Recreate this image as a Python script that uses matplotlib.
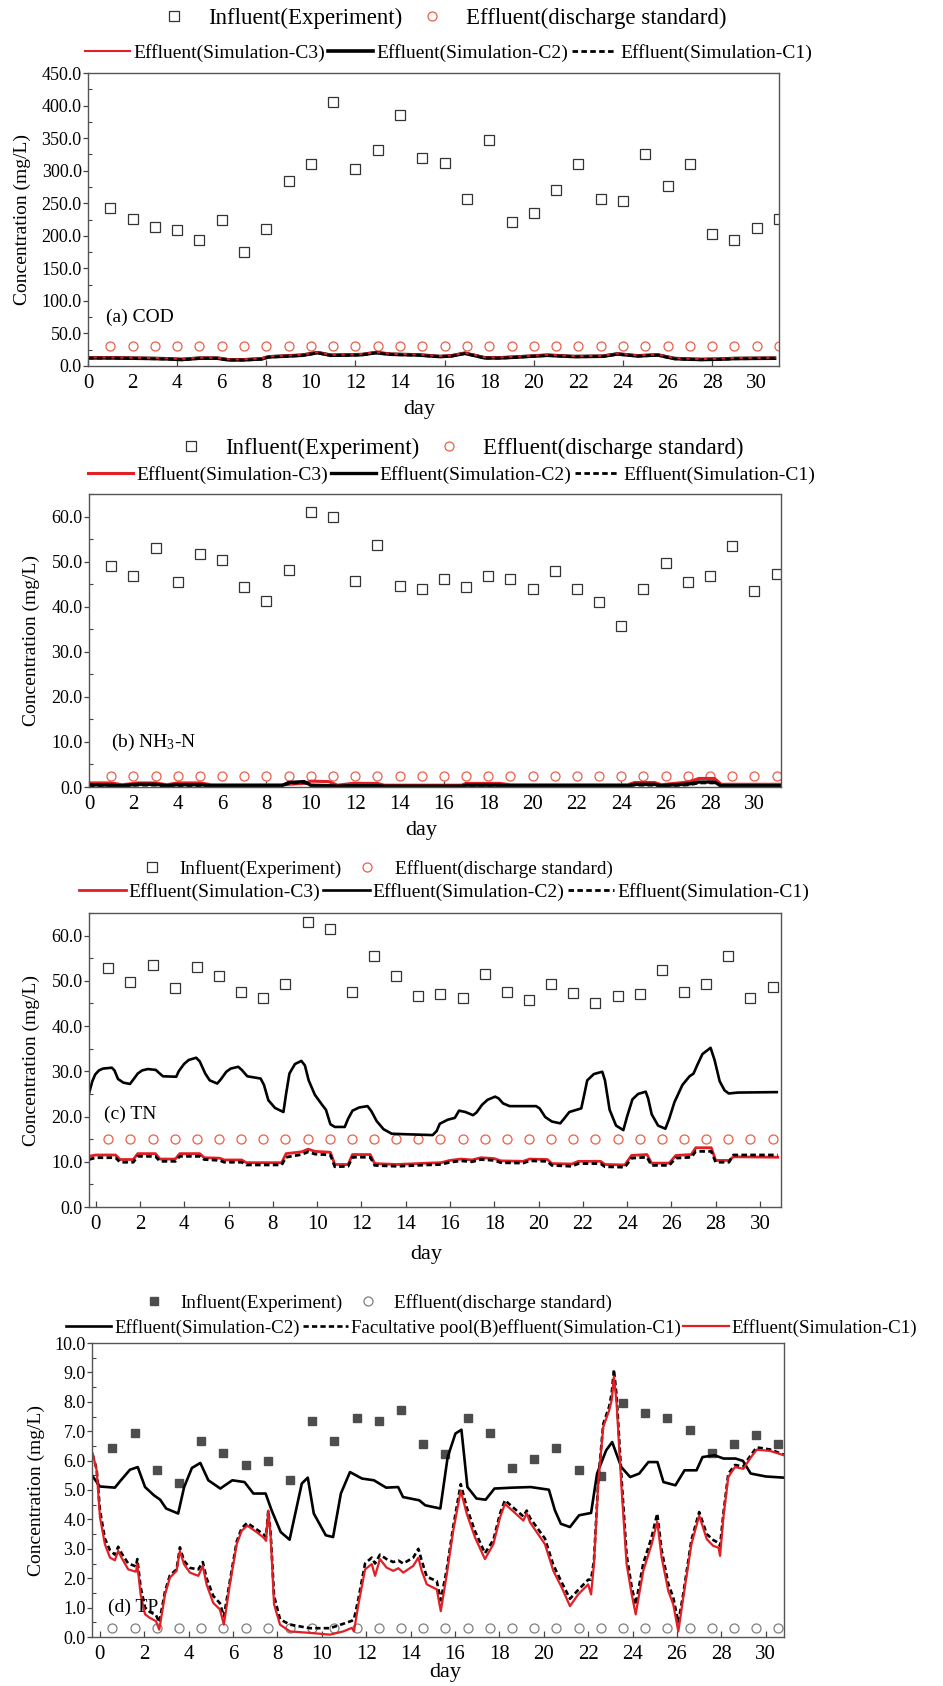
import numpy as np
import matplotlib
matplotlib.use("Agg")
import matplotlib.pyplot as plt
from matplotlib.ticker import MultipleLocator, FixedLocator, FormatStrFormatter

plt.rcParams['font.family'] = ['Liberation Serif', 'DejaVu Serif']
plt.rcParams['mathtext.fontset'] = 'custom'
plt.rcParams['mathtext.rm'] = 'Liberation Serif'
plt.rcParams['mathtext.it'] = 'Liberation Serif:italic'

W, H = 943, 1686

# ---------------- data ----------------
# (a) COD
cod_days = np.arange(1, 32)
cod_in = [243, 226, 213, 209, 194, 225, 175, 210, 284, 311, 405, 302, 331, 386, 320, 312,
          256, 347, 221, 235, 271, 310, 256, 254, 325, 276, 311, 202, 194, 212, 226]
cod_std = 30.0
cod_t = [0, 1, 2, 3, 3.6, 4.2, 5, 5.8, 6.3, 7, 7.8, 8.1, 9, 9.6, 10.3, 10.9, 11.8, 12.3, 12.9, 13.6,
         14.8, 15.8, 16.3, 16.9, 17.3, 17.8, 18.5, 19.1, 20.6, 21.2, 21.8, 23.1, 23.75, 24.65, 25.55,
         26.3, 27.0, 27.5, 28.3, 29.0, 30.8]
cod_c2 = [12.5, 12.5, 12, 11.5, 11, 10, 12, 12, 9.5, 9.5, 11, 14, 15.5, 16.5, 20.5, 16.5, 17, 17.5,
          20.5, 18, 17, 14.5, 15.5, 19.5, 16.5, 12.5, 12.5, 13.5, 16.5, 15.5, 14.5, 15, 18.5, 15.5,
          17, 11.5, 10.5, 10, 10.5, 11.5, 12]
cod_c3 = [13.3, 13.3, 12.8, 12.3, 11.8, 10.8, 12.8, 12.8, 10.3, 10.3, 11.8, 14.8, 16.3, 17.3, 21.3,
          17.3, 17.8, 18.3, 21.3, 18.8, 17.8, 15.3, 16.3, 20.3, 17.3, 13.3, 13.3, 14.3, 17.3, 16.3,
          15.3, 15.8, 19.3, 16.3, 17.8, 12.3, 11.3, 10.8, 11.3, 12.3, 12.8]
cod_c1 = [12.1, 12.1, 11.6, 11.1, 10.6, 9.6, 11.6, 11.6, 9.1, 9.1, 10.6, 13.6, 15.1, 16.1, 20.1,
          16.1, 16.6, 17.1, 20.1, 17.6, 16.6, 14.1, 15.1, 19.1, 16.1, 12.1, 12.1, 13.1, 16.1, 15.1,
          14.1, 14.6, 18.1, 15.1, 16.6, 11.1, 10.1, 9.6, 10.1, 11.1, 11.6]

# (b) NH3-N
nh3_days = np.arange(1, 32)
nh3_in = [49.1, 46.7, 53.1, 45.5, 51.6, 50.4, 44.3, 41.3, 48.2, 60.9, 59.8, 45.7, 53.7, 44.5, 43.9,
          46.1, 44.3, 46.7, 46.1, 43.9, 47.9, 43.9, 41.0, 35.8, 43.9, 49.7, 45.5, 46.7, 53.4, 43.5, 47.3]
nh3_std = 2.5
nh3_t = [0, 1, 1.5, 2.2, 3.0, 3.5, 4.0, 5.0, 5.5, 8.7, 9.0, 9.7, 10.0, 10.8, 11.2, 11.9, 13.0, 13.3,
         16.8, 17.0, 18.5, 19.0, 24.3, 24.6, 25.5, 25.8, 26.8, 27.1, 27.5, 28.2, 28.5, 31.2]
nh3_c3 = [0.9, 0.9, 0.5, 0.9, 0.9, 0.5, 0.9, 0.9, 0.5, 0.5, 0.6, 0.8, 1.3, 1.2, 0.4, 0.8, 0.8, 0.4,
          0.4, 0.8, 0.8, 0.5, 0.5, 1.0, 1.0, 0.5, 1.0, 1.2, 1.9, 1.9, 0.6, 0.6]
nh3_c2 = [0.5, 0.4, 0.3, 0.6, 0.6, 0.3, 0.5, 0.5, 0.3, 0.3, 1.0, 1.2, 0.4, 0.3, 0.2, 0.3, 0.3, 0.2,
          0.2, 0.4, 0.4, 0.3, 0.3, 0.6, 0.6, 0.3, 0.6, 0.7, 1.1, 1.1, 0.3, 0.3]
nh3_c1 = [0.3, 0.3, 0.2, 0.4, 0.4, 0.2, 0.3, 0.3, 0.2, 0.2, 0.8, 1.0, 0.3, 0.2, 0.1, 0.2, 0.2, 0.1,
          0.1, 0.3, 0.3, 0.2, 0.2, 0.4, 0.4, 0.2, 0.4, 0.5, 0.9, 0.9, 0.2, 0.2]

# (c) TN
tn_days = np.arange(1, 32) - 0.43
tn_in = [52.9, 49.7, 53.5, 48.5, 53.1, 51.0, 47.5, 46.1, 49.2, 63.0, 61.4, 47.5, 55.4, 51.1, 46.7,
         47.2, 46.3, 51.6, 47.5, 45.8, 49.4, 47.3, 45.2, 46.7, 47.2, 52.3, 47.5, 49.4, 55.6, 46.1, 48.6]
tn_std = 15.0
tn_t2 = [-0.3, -0.15, -0.02, 0.15, 0.33, 0.73, 0.85, 1.01, 1.25, 1.55, 1.72, 1.90, 2.1, 2.36, 2.72,
         2.85, 3.04, 3.64, 3.75, 3.99, 4.2, 4.54, 4.7, 4.95, 5.15, 5.49, 5.65, 5.90, 6.1, 6.44, 6.6,
         6.85, 7.45, 7.6, 7.80, 8.1, 8.48, 8.6, 8.75, 9.0, 9.29, 9.45, 9.62, 9.9, 10.24, 10.4, 10.60,
         10.8, 11.25, 11.4, 11.60, 11.9, 12.28, 12.45, 12.69, 13.0, 13.37, 13.91, 15.22, 15.4, 15.54,
         15.9, 16.22, 16.41, 16.7, 17.04, 17.2, 17.45, 17.7, 18.04, 18.2, 18.40, 18.7, 19.89, 20.05,
         20.30, 20.6, 20.98, 21.15, 21.39, 21.93, 22.05, 22.20, 22.5, 22.88, 23.0, 23.21, 23.5, 23.83,
         24.0, 24.24, 24.5, 24.84, 24.95, 25.11, 25.4, 25.73, 25.9, 26.14, 26.5, 26.82, 27.0, 27.17,
         27.4, 27.77, 27.95, 28.18, 28.4, 28.59, 29.0, 30.76]
tn_c2 = [25.1, 27.8, 29.3, 30.2, 30.6, 30.8, 30.2, 28.3, 27.5, 27.2, 28.3, 29.5, 30.2, 30.5, 30.3,
         29.7, 28.9, 28.8, 30.0, 31.6, 32.5, 33.0, 32.2, 29.5, 28.0, 27.3, 28.2, 29.9, 30.6, 31.0,
         30.3, 28.9, 28.4, 27.0, 23.6, 21.9, 21.0, 25.0, 29.5, 31.6, 32.3, 31.3, 28.0, 24.8, 22.5,
         21.5, 18.3, 17.7, 17.7, 19.5, 21.3, 22.0, 22.3, 21.2, 19.0, 17.2, 16.2, 16.1, 15.9, 16.8,
         18.4, 19.3, 19.7, 21.3, 21.0, 20.3, 20.9, 22.6, 23.7, 24.4, 24.0, 22.9, 22.3, 22.3, 21.8,
         19.9, 18.9, 18.5, 19.5, 21.0, 21.8, 24.5, 28.0, 29.4, 29.9, 28.0, 21.5, 18.0, 17.0, 20.0,
         23.8, 25.0, 25.5, 24.0, 20.5, 18.0, 17.3, 19.5, 23.2, 27.0, 28.9, 29.5, 31.4, 33.8, 35.2,
         32.5, 27.8, 25.8, 25.1, 25.3, 25.4]
tn_t = [-0.3, 0.0, 0.9, 1.1, 1.7, 1.9, 2.7, 2.9, 3.6, 3.8, 4.7, 4.9, 5.6, 5.8, 6.6, 6.8, 8.4, 8.6,
        9.3, 9.6, 9.9, 10.6, 10.8, 11.4, 11.6, 12.4, 12.6, 13.6, 15.0, 15.6, 16.0, 16.5, 17.0, 17.4,
        18.0, 18.3, 19.3, 19.6, 20.4, 20.6, 21.5, 21.8, 22.8, 23.0, 23.9, 24.2, 24.9, 25.1, 25.9,
        26.2, 26.9, 27.1, 27.8, 28.0, 28.6, 28.8, 30.8]
tn_c3 = [11.2, 11.5, 11.5, 10.5, 10.5, 11.8, 11.8, 10.6, 10.6, 11.8, 11.8, 10.9, 10.8, 10.4, 10.4,
         9.8, 9.8, 11.8, 12.2, 12.8, 12.3, 12.1, 9.4, 9.4, 11.6, 11.6, 9.6, 9.4, 9.7, 9.8, 10.3,
         10.6, 10.4, 10.9, 10.7, 10.2, 10.1, 10.6, 10.5, 9.6, 9.5, 10.1, 10.1, 9.4, 9.3, 11.4, 11.6,
         9.7, 9.7, 11.4, 11.6, 13.1, 13.1, 10.3, 10.3, 11.1, 11.0]
tn_c1 = [10.5, 10.9, 10.9, 9.9, 9.9, 11.2, 11.2, 10.1, 10.1, 11.2, 11.2, 10.5, 10.3, 9.9, 9.9, 9.3,
         9.3, 11.0, 11.6, 12.2, 11.7, 11.5, 8.9, 9.0, 11.0, 11.0, 9.2, 9.0, 9.3, 9.4, 9.9, 10.2, 10.0,
         10.5, 10.3, 9.8, 9.7, 10.2, 10.1, 9.2, 9.0, 9.6, 9.6, 8.9, 8.8, 10.8, 11.0, 9.2, 9.2, 10.8,
         11.0, 12.3, 12.3, 9.9, 9.9, 11.5, 11.5]

# (d) TP
tp_days = np.arange(1, 32) - 0.43
tp_in = [6.43, 6.94, 5.67, 5.25, 6.66, 6.26, 5.85, 5.98, 5.35, 7.34, 6.66, 7.45, 7.34, 7.73, 6.55,
         6.24, 7.45, 6.94, 5.76, 6.07, 6.43, 5.67, 5.46, 7.96, 7.63, 7.45, 7.05, 6.27, 6.55, 6.86, 6.55]
tp_std = 0.3
tp_t2 = [-0.35, 0.0, 0.68, 0.95, 1.36, 1.71, 2.04, 2.44, 2.72, 2.99, 3.53, 3.80, 4.15, 4.53, 4.89,
         5.43, 5.97, 6.52, 6.92, 7.47, 7.74, 8.15, 8.55, 9.10, 9.37, 9.64, 10.18, 10.51, 10.86, 11.27,
         11.81, 12.35, 12.90, 13.44, 13.66, 14.39, 14.66, 15.34, 15.67, 16.02, 16.29, 16.56, 16.97,
         17.38, 17.78, 18.60, 19.41, 20.23, 20.50, 20.77, 21.18, 21.59, 22.13, 22.40, 22.81, 23.08,
         23.49, 23.89, 24.30, 24.71, 25.12, 25.39, 25.93, 26.34, 26.88, 27.15, 27.69, 28.10, 28.64,
         28.97, 29.32, 30.00, 30.82]
tp_c2 = [5.50, 5.12, 5.08, 5.33, 5.69, 5.78, 5.10, 4.82, 4.67, 4.37, 4.20, 5.10, 5.75, 5.92, 5.33,
         5.05, 5.33, 5.27, 4.88, 4.88, 4.31, 3.57, 3.31, 5.22, 5.42, 4.20, 3.46, 3.40, 4.88, 5.61,
         5.39, 5.33, 5.08, 5.10, 4.76, 4.65, 4.48, 4.37, 6.12, 6.92, 7.05, 5.10, 4.71, 4.67, 5.05,
         5.08, 5.10, 5.01, 4.31, 3.85, 3.74, 4.14, 4.22, 5.56, 6.35, 6.63, 5.78, 5.44, 5.56, 5.95,
         5.95, 5.27, 5.16, 5.67, 5.67, 6.12, 6.18, 6.07, 6.07, 5.99, 5.56, 5.46, 5.42]
tp_t = [-0.32, -0.14, 0.01, 0.23, 0.46, 0.68, 0.83, 0.98, 1.28, 1.63, 1.69, 1.84, 2.04, 2.26, 2.53,
        2.68, 2.94, 3.16, 3.46, 3.61, 3.79, 4.06, 4.44, 4.64, 4.81, 5.11, 5.41, 5.59, 5.86, 6.17,
        6.39, 6.64, 6.99, 7.37, 7.49, 7.59, 7.70, 7.85, 8.12, 8.57, 9.47, 10.37, 10.97, 11.35, 11.45,
        11.65, 11.95, 12.25, 12.40, 12.62, 12.92, 13.22, 13.45, 13.67, 14.12, 14.35, 14.50, 14.73,
        15.18, 15.36, 15.63, 15.92, 16.26, 16.53, 16.90, 17.35, 17.73, 18.03, 18.25, 19.08, 19.23,
        19.38, 20.05, 20.43, 20.81, 21.18, 21.55, 22.00, 22.13, 22.26, 22.46, 22.68, 22.95, 23.06,
        23.16, 23.28, 23.51, 23.73, 23.96, 24.14, 24.48, 24.86, 25.11, 25.31, 25.61, 25.83, 26.06,
        26.28, 26.65, 27.00, 27.34, 27.63, 27.87, 27.94, 28.09, 28.31, 28.61, 28.99, 29.29, 29.59,
        30.19, 30.82]
tp_eff = [6.24, 5.67, 4.07, 3.16, 2.70, 2.61, 2.93, 2.70, 2.30, 2.22, 2.48, 1.45, 0.77, 0.65, 0.54,
          0.25, 1.45, 2.02, 2.25, 2.93, 2.48, 2.19, 2.08, 2.42, 1.79, 1.16, 0.94, 0.42, 1.79, 3.16,
          3.61, 3.79, 3.61, 3.39, 3.27, 4.30, 3.39, 1.11, 0.42, 0.19, 0.14, 0.08, 0.19, 0.31, 0.19,
          1.11, 2.30, 2.48, 2.08, 2.65, 2.36, 2.25, 2.34, 2.19, 2.42, 2.70, 2.25, 1.79, 1.62, 0.88,
          2.13, 3.61, 4.98, 4.19, 3.39, 2.65, 3.16, 4.07, 4.53, 3.96, 4.21, 3.90, 3.16, 2.25, 1.68,
          1.05, 1.45, 1.79, 1.45, 2.48, 5.33, 7.15, 7.72, 8.06, 8.86, 7.95, 4.98, 2.48, 1.45, 0.77,
          2.25, 3.16, 3.93, 2.70, 1.56, 1.11, 0.19, 1.33, 3.16, 4.13, 3.33, 3.10, 3.04, 2.76, 4.07,
          5.44, 5.78, 5.72, 6.07, 6.37, 6.33, 6.18]
tp_fac = [6.2, 5.7, 4.3, 3.35, 2.95, 2.8, 3.07, 2.85, 2.5, 2.4, 2.65, 1.7, 1.0, 0.85, 0.75, 0.5,
          1.55, 2.1, 2.3, 3.05, 2.6, 2.35, 2.3, 2.55, 2.0, 1.4, 1.15, 0.7, 1.9, 3.25, 3.7, 3.88, 3.7,
          3.5, 3.4, 4.3, 3.5, 1.4, 0.6, 0.42, 0.3, 0.3, 0.45, 0.55, 0.6, 1.3, 2.5, 2.7, 2.5, 2.8,
          2.65, 2.55, 2.6, 2.5, 2.7, 3.0, 2.6, 2.05, 1.9, 1.25, 2.3, 3.75, 5.2, 4.4, 3.6, 2.85, 3.3,
          4.2, 4.65, 4.1, 4.3, 4.05, 3.35, 2.45, 1.85, 1.3, 1.6, 1.95, 1.95, 2.6, 5.4, 7.25, 7.85,
          8.3, 9.1, 8.2, 5.3, 2.8, 1.7, 1.1, 2.5, 3.4, 4.2, 2.95, 1.8, 1.35, 0.5, 1.45, 3.3, 4.25,
          3.5, 3.3, 3.2, 3.1, 4.2, 5.55, 5.85, 5.8, 6.15, 6.45, 6.38, 6.2]

RED = '#e31e24'
CIRC = '#e8604c'
SQ = '#333333'

fig = plt.figure(figsize=(W / 100, H / 100), dpi=100)


def px_axes(l, r, t, b):
    return fig.add_axes([l / W, 1 - b / H, (r - l) / W, (b - t) / H])


def style(ax, xlim, ylim, ystep, ylab_x, xlab_y, xlab_x, tick_step=2):
    ax.set_xlim(*xlim)
    ax.set_ylim(*ylim)
    # tick marks every tick_step days, labels every 2 days
    ax.xaxis.set_major_locator(MultipleLocator(tick_step))
    if tick_step != 2:
        ax.xaxis.set_minor_locator(FixedLocator([d for d in range(0, 32, 2) if d % tick_step]))
        ax.xaxis.set_minor_formatter(FormatStrFormatter('%d'))
        ax.tick_params(axis='x', which='minor', length=0, labelsize=15, pad=5.5)
    ax.yaxis.set_major_locator(MultipleLocator(ystep))
    ax.yaxis.set_minor_locator(MultipleLocator(ystep / 2))
    ax.yaxis.set_major_formatter(FormatStrFormatter('%.1f'))
    ax.tick_params(axis='x', which='major', direction='in', length=4, width=0.9,
                   labelsize=15, pad=5.5, colors='#444444', labelcolor='black')
    ax.tick_params(axis='y', which='major', direction='out', length=3.5, width=0.9,
                   labelsize=13, pad=1, colors='#444444', labelcolor='black')
    ax.tick_params(axis='y', which='minor', direction='in', length=3, width=0.8, colors='#444444')
    for s in ax.spines.values():
        s.set_color('#555555')
        s.set_linewidth(1.0)
    ax.set_ylabel('Concentration (mg/L)', fontsize=14, va='center')
    ax.yaxis.set_label_coords(ylab_x, 0.5)
    ax.set_xlabel('day', fontsize=16, va='center')
    ax.xaxis.set_label_coords(xlab_x, xlab_y)


def add_legend(handles, labels, x_px, y_px, fs, hl, htp, cs):
    fig.legend(handles, labels, loc='center left', bbox_to_anchor=(x_px / W, 1 - y_px / H),
               ncol=len(handles), frameon=False, fontsize=fs, handlelength=hl,
               handletextpad=htp, columnspacing=cs, borderpad=0, borderaxespad=0, numpoints=1)


# ---------------- (a) COD ----------------
ax = px_axes(88, 779, 73, 366)
h_in, = ax.plot(cod_days, cod_in, ls='none', marker='s', ms=7, mfc='none', mec=SQ, mew=0.9)
h_std, = ax.plot(cod_days, [cod_std] * len(cod_days), ls='none', marker='o', ms=6.5,
                 mfc='none', mec=CIRC, mew=0.9)
h_c2, = ax.plot(cod_t, cod_c2, color='black', lw=2.6)
h_c3, = ax.plot(cod_t, cod_c3, color=RED, lw=1.5)
h_c1, = ax.plot(cod_t, cod_c1, color='black', lw=2.0, ls=(0, (2, 1.2)))
ax.text(0.8, 75, '(a) COD', fontsize=14, va='center')
style(ax, (0, 31), (0, 450), 50, -0.095, -0.150, 0.48, tick_step=4)
add_legend([h_in, h_std], ['Influent(Experiment)', 'Effluent(discharge standard)'],
           163, 18, 16.5, 1.0, 0.98, 0.8)
add_legend([h_c3, h_c2, h_c1],
           ['Effluent(Simulation-C3)', 'Effluent(Simulation-C2)', 'Effluent(Simulation-C1)'],
           85, 53, 14, 2.3, 0.2, 0.15)

# ---------------- (b) NH3-N ----------------
ax = px_axes(89, 781, 494, 787)
h_in, = ax.plot(nh3_days, nh3_in, ls='none', marker='s', ms=7, mfc='none', mec=SQ, mew=0.9)
h_std, = ax.plot(nh3_days, [nh3_std] * len(nh3_days), ls='none', marker='o', ms=6.5,
                 mfc='none', mec=CIRC, mew=0.9)
h_c3, = ax.plot(nh3_t, nh3_c3, color=RED, lw=2.2)
h_c2, = ax.plot(nh3_t, nh3_c2, color='black', lw=2.4)
h_c1, = ax.plot(nh3_t, nh3_c1, color='black', lw=2.0, ls=(0, (2, 1.2)))
ax.text(0.97, 9.8, '(b) NH$_3$-N', fontsize=14, va='center')
style(ax, (0, 31.2), (0, 65), 10, -0.083, -0.147, 0.48, tick_step=8)
add_legend([h_in, h_std], ['Influent(Experiment)', 'Effluent(discharge standard)'],
           180, 448, 16.5, 1.0, 0.98, 0.8)
add_legend([h_c3, h_c2, h_c1],
           ['Effluent(Simulation-C3)', 'Effluent(Simulation-C2)', 'Effluent(Simulation-C1)'],
           88, 475, 14, 2.3, 0.2, 0.15)

# ---------------- (c) TN ----------------
ax = px_axes(89, 781, 913, 1207)
h_in, = ax.plot(tn_days, tn_in, ls='none', marker='s', ms=7, mfc='none', mec=SQ, mew=0.9)
h_std, = ax.plot(tn_days, [tn_std] * len(tn_days), ls='none', marker='o', ms=6.5,
                 mfc='none', mec=CIRC, mew=0.9)
h_c2, = ax.plot(tn_t2, tn_c2, color='black', lw=1.9)
h_c3, = ax.plot(tn_t, tn_c3, color=RED, lw=2.0)
h_c1, = ax.plot(tn_t, tn_c1, color='black', lw=2.0, ls=(0, (2, 1.2)))
ax.text(0.38, 20.5, '(c) TN', fontsize=14, va='center')
style(ax, (-0.3, 30.95), (0, 65), 10, -0.083, -0.163, 0.487)
add_legend([h_in, h_std], ['Influent(Experiment)', 'Effluent(discharge standard)'],
           142, 869, 13.8, 1.0, 0.96, 0.8)
add_legend([h_c3, h_c2, h_c1],
           ['Effluent(Simulation-C3)', 'Effluent(Simulation-C2)', 'Effluent(Simulation-C1)'],
           79, 892, 14, 2.4, 0.15, 0.15)

# ---------------- (d) TP ----------------
ax = px_axes(92, 784, 1343, 1637)
h_in, = ax.plot(tp_days, tp_in, ls='none', marker='s', ms=5.5, mfc='#4d4d4d', mec='#4d4d4d')
h_std, = ax.plot(tp_days, [tp_std] * len(tp_days), ls='none', marker='o', ms=6.5,
                 mfc='none', mec='#7f7f7f', mew=0.9)
h_c2, = ax.plot(tp_t2, tp_c2, color='black', lw=1.9)
h_fac, = ax.plot(tp_t, tp_fac, color='black', lw=1.9, ls=(0, (2, 1.2)))
h_eff, = ax.plot(tp_t, tp_eff, color=RED, lw=1.6)
ax.text(0.36, 1.0, '(d) TP', fontsize=14, va='center')
style(ax, (-0.35, 30.82), (0, 10), 1, -0.08, -0.122, 0.51)
add_legend([h_in, h_std], ['Influent(Experiment)', 'Effluent(discharge standard)'],
           144, 1303, 13.8, 1.0, 0.9, 0.8)
add_legend([h_c2, h_fac, h_eff],
           ['Effluent(Simulation-C2)', 'Facultative pool(B)effluent(Simulation-C1)',
            'Effluent(Simulation-C1)'],
           66, 1328, 13.6, 2.4, 0.15, 0.15)

fig.savefig('out.png', dpi=100)
